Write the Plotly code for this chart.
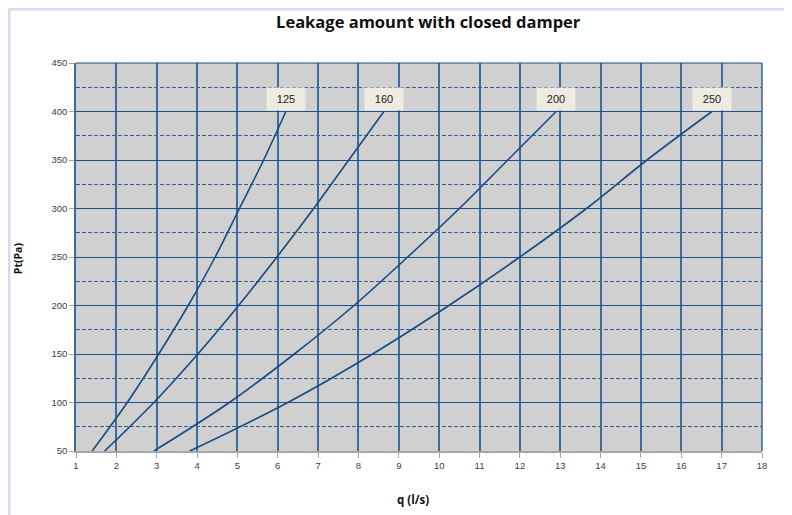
import plotly.graph_objects as go

# Data
pressure = [50, 100, 150, 200, 250, 300, 350, 400]          # Pt (Pa)
q_125 = [1.40, 2.27, 3.05, 3.78, 4.45, 5.05, 5.65, 6.20]    # q (l/s)
q_160 = [1.71, 2.93, 4.02, 5.03, 5.98, 6.89, 7.76, 8.63]
q_200 = [2.93, 4.80, 6.41, 7.89, 9.22, 10.50, 11.70, 12.90]
q_250 = [3.82, 6.25, 8.35, 10.24, 12.00, 13.65, 15.15, 16.76]
series_names = ["125", "160", "200", "250"]
x_ticks = list(range(1, 19))
y_ticks = list(range(50, 451, 50))

line_color = "#174A82"
fig = go.Figure()
for name, qs in zip(series_names, [q_125, q_160, q_200, q_250]):
    fig.add_trace(go.Scatter(x=qs, y=pressure, mode="lines", name=name,
                             line=dict(color=line_color, width=1.6),
                             line_shape="spline", showlegend=False,
                             hoverinfo="skip"))
    fig.add_annotation(x=qs[-1], y=pressure[-1], text=name, showarrow=False,
                       xanchor="center", yanchor="bottom", yshift=1,
                       bgcolor="#EEECE1", borderpad=5, width=28,
                       font=dict(family="Liberation Sans", size=11, color="#222222"))

h_grid = "#1D4F8A"
v_grid = "#3D6C9E"
fig.update_layout(
    width=784, height=507,
    margin=dict(l=68, r=30, t=55, b=64),
    paper_bgcolor="white", plot_bgcolor="#D0D0D0",
    title=dict(text="<b>Leakage amount with closed damper</b>",
               x=0.536, xanchor="center", y=0.972, yanchor="middle",
               font=dict(family="Open Sans", size=16.5, color="#111111")),
    font=dict(family="Liberation Sans", size=9, color="#404040"),
)
fig.update_xaxes(range=[1, 18], tickvals=x_ticks, showgrid=True,
                 gridcolor=v_grid, gridwidth=1.6, zeroline=False,
                 showline=True, linecolor="#A6A6A6", linewidth=1.5,
                 ticks="outside", ticklen=5, tickcolor="#A6A6A6",
                 tickfont=dict(size=9.5, color="#404040"), automargin=False)
fig.update_yaxes(range=[50, 450], tickvals=y_ticks, showgrid=True,
                 gridcolor=h_grid, gridwidth=1.2, zeroline=False,
                 showline=True, linecolor=v_grid, linewidth=1.6,
                 ticks="outside", ticklen=5, tickcolor="#A6A6A6",
                 tickfont=dict(size=9.5, color="#404040"), automargin=False,
                 minor=dict(dtick=25, tick0=25, showgrid=True, gridcolor="#2D5E96",
                            gridwidth=1, griddash="4px,2px", ticks=""))

# axis titles
fig.add_annotation(xref="paper", yref="paper", x=0.491, y=-0.126,
                   text="<b>q (l/s)</b>", showarrow=False,
                   xanchor="center", yanchor="middle",
                   font=dict(family="Open Sans", size=11.5, color="#111111"))
fig.add_annotation(xref="paper", yref="paper", x=-0.0845, y=0.497,
                   text="<b>Pt(Pa)</b>", showarrow=False, textangle=-90,
                   xanchor="center", yanchor="middle",
                   font=dict(family="Open Sans", size=10.5, color="#111111"))

# top & right border of plot area
fig.add_shape(type="line", xref="paper", yref="paper", x0=0, x1=1, y0=1, y1=1,
              line=dict(color=h_grid, width=1.2), layer="above")
fig.add_shape(type="line", xref="paper", yref="paper", x0=1, x1=1, y0=0, y1=1,
              line=dict(color=v_grid, width=1.6), layer="above")
# outer chart frame (light lavender)
fig.add_shape(type="line", xref="paper", yref="paper", x0=-0.0977, x1=1.2,
              y0=1.139, y1=1.139, line=dict(color="#D6DAF0", width=3))
fig.add_shape(type="line", xref="paper", yref="paper", x0=-0.0977, x1=-0.0977,
              y0=1.139, y1=-0.3, line=dict(color="#D6DAF0", width=3))

fig.write_html("out.html")
